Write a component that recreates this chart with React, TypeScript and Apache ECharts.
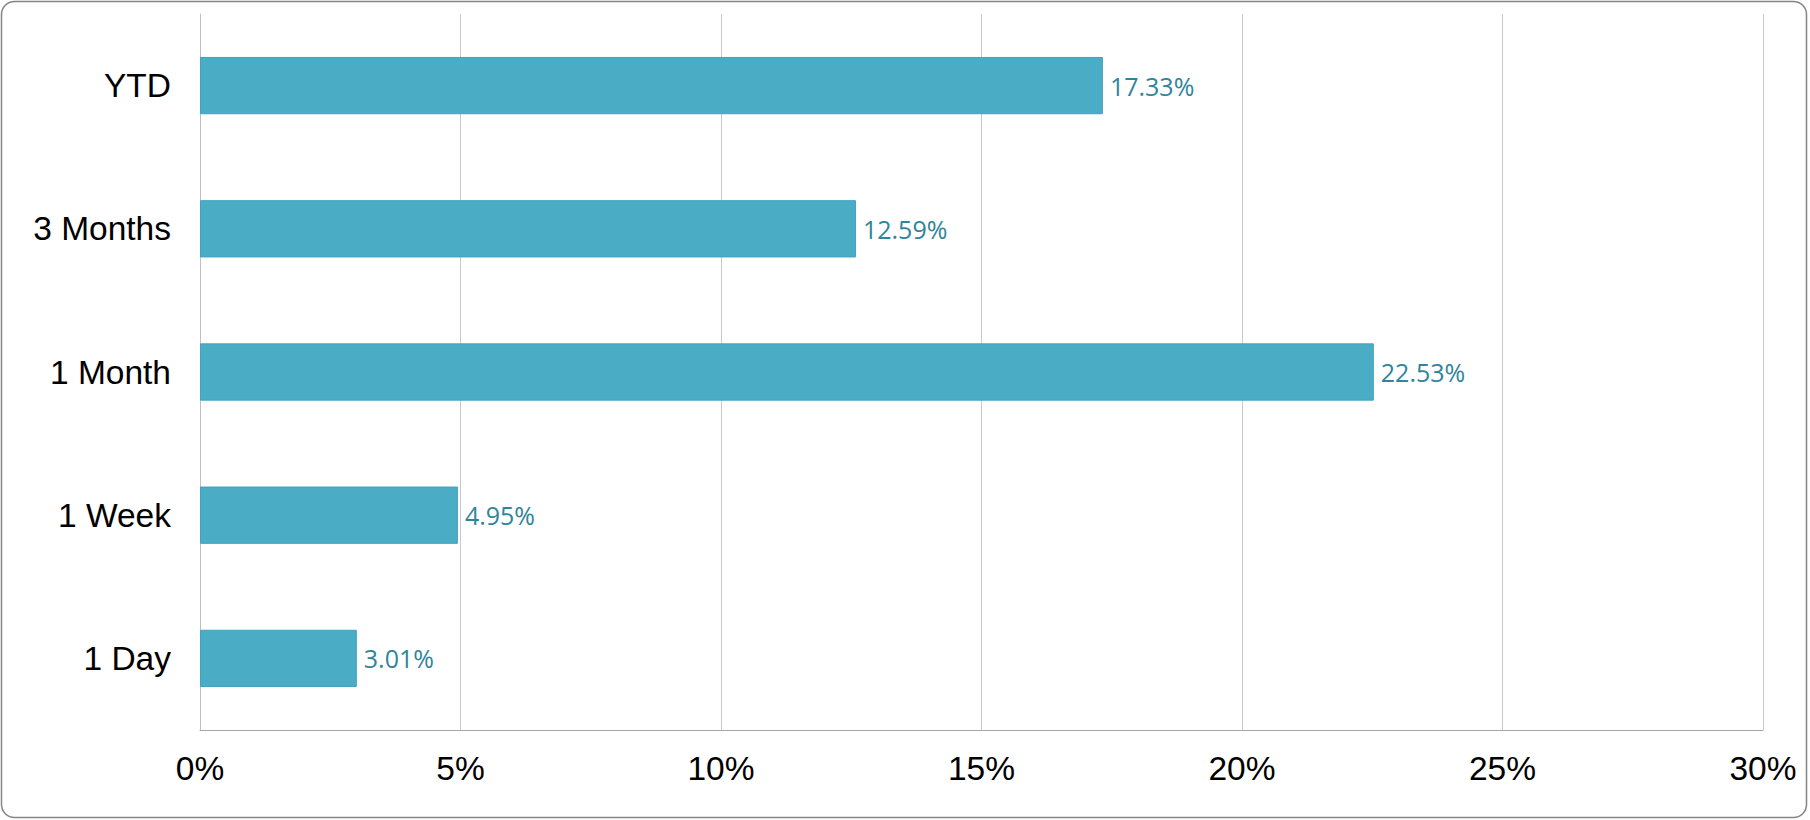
import React, { useEffect, useRef } from "react";
import * as echarts from "echarts";

const categories = ["1 Day", "1 Week", "1 Month", "3 Months", "YTD"];
const returnsPct = [3.01, 4.95, 22.53, 12.59, 17.33];
const axisMin = 0;
const axisMax = 30;
const axisStep = 5;

export default function App() {
  const ref = useRef<HTMLDivElement>(null);
  useEffect(() => {
    document.body.style.margin = "0";
    const chart = echarts.init(ref.current!, null, { renderer: "svg" });
    chart.setOption({
      animation: false,
      backgroundColor: "#ffffff",
      graphic: [
        {
          type: "rect",
          shape: { x: 1.5, y: 1.5, width: 1805, height: 816, r: 13 },
          style: { fill: "none", stroke: "#858585", lineWidth: 1.5 },
          silent: true,
        },
      ],
      grid: { left: 200, right: 47, top: 14, bottom: 90, containLabel: false },
      xAxis: {
        type: "value",
        min: axisMin,
        max: axisMax,
        interval: axisStep,
        axisLabel: {
          formatter: "{value}%",
          fontFamily: "Liberation Sans, Arial, sans-serif",
          fontSize: 33.5,
          color: "#000000",
          margin: 21,
        },
        axisLine: { show: true, lineStyle: { color: "#a6a6a6", width: 1 } },
        axisTick: { show: false },
        splitLine: { show: true, lineStyle: { color: "#c8c8c8", width: 1 } },
      },
      yAxis: {
        type: "category",
        data: categories,
        axisLabel: {
          fontFamily: "Liberation Sans, Arial, sans-serif",
          fontSize: 33.5,
          color: "#000000",
          margin: 29,
        },
        axisLine: { show: true, lineStyle: { color: "#c0c0c0", width: 1 } },
        axisTick: { show: false },
        splitLine: { show: false },
      },
      series: [
        {
          type: "bar",
          data: returnsPct,
          barCategoryGap: "60%",
          itemStyle: { color: "#4BACC6", borderColor: "#3fa3bd", borderWidth: 1 },
          label: {
            show: true,
            position: "right",
            distance: 7,
            formatter: (p: any) => p.value.toFixed(2) + "%",
            fontFamily: "Open Sans, Noto Sans, sans-serif",
            fontSize: 25,
            color: "#31849B",
          },
        },
      ],
    });
    return () => chart.dispose();
  }, []);
  return <div ref={ref} style={{ width: 1810, height: 820 }} />;
}
